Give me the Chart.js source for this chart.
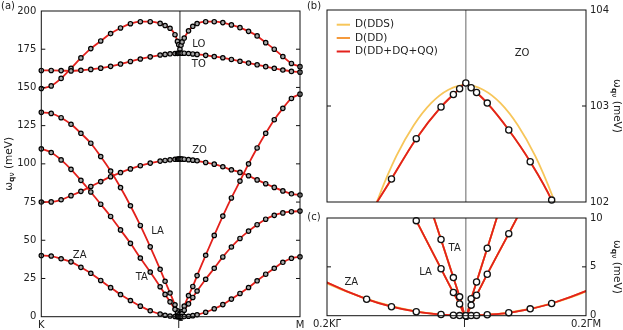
<!DOCTYPE html>
<html>
<head>
<meta charset="utf-8">
<script src="https://cdn.jsdelivr.net/npm/chart.js@4.4.1/dist/chart.umd.min.js"></script>
<style>
  html, body { margin: 0; padding: 0; background: #fff; }
  #wrap { position: relative; width: 623px; height: 330px; overflow: hidden; }
  canvas { position: absolute; }
</style>
</head>
<body>
<div id="wrap">
  <canvas id="panelA" width="310" height="330" style="left:0;top:0;width:310px;height:330px"></canvas>
  <canvas id="panelB" width="323" height="212" style="left:300px;top:0;width:323px;height:212px"></canvas>
  <canvas id="panelC" width="323" height="122" style="left:300px;top:208px;width:323px;height:122px"></canvas>
</div>
<script>
// path coordinate: K = -1, Gamma = 0, M = 0.866 (|GM|/|GK|)
const qPath = [-1, -0.9286, -0.8571, -0.7857, -0.7143, -0.6429, -0.5714, -0.5, -0.4286, -0.3571, -0.2857, -0.2143, -0.1429,
  -0.1071, -0.0714, -0.0357, -0.0179, -0.0089, 0, 0.0077, 0.0155, 0.0309, 0.0619, 0.0928, 0.1237,
  0.1856, 0.2474, 0.3093, 0.3712, 0.4330, 0.4949, 0.5567, 0.6186, 0.6804, 0.7423, 0.8042, 0.8660];

// phonon branches (meV) at qPath, D(DD+DQ+QQ)
const bandZA = [40.0, 39.7, 37.9, 35.9, 32.3, 28.4, 23.7, 19.0, 14.5, 10.6, 6.9, 3.9, 1.69, 0.92, 0.41, 0.12, 0.04, 0.01,
  0, 0.01, 0.03, 0.1, 0.3, 0.7, 1.25, 2.9, 5.2, 7.9, 11.5, 15.2, 19.1, 23.5, 27.8, 31.7, 35.6, 38.2, 39.2];
const bandTA = [109.8, 107.4, 102.6, 96.4, 89.2, 81.6, 73.6, 65.6, 56.8, 48.0, 38.4, 29.2, 19.6, 14.6, 9.73, 4.81, 2.37, 1.19,
  0, 1.08, 2.1, 4.25, 8.4, 12.6, 16.8, 24.5, 31.7, 39.1, 45.6, 51.2, 56.0, 60.2, 63.8, 66.3, 67.9, 68.7, 69.1];
const bandLA = [133.7, 133.0, 130.2, 125.9, 120.0, 113.5, 104.8, 95.3, 84.5, 72.6, 59.7, 45.7, 31.0, 23.2, 15.5, 7.8, 3.9, 1.93,
  0, 1.73, 3.45, 6.9, 13.8, 19.8, 26.9, 40.2, 53.2, 65.8, 77.7, 88.7, 100.0, 110.4, 120.0, 128.9, 136.3, 142.8, 145.6];
const bandZO = [75.0, 75.1, 76.5, 79.2, 82.0, 85.2, 88.4, 91.6, 94.3, 96.7, 98.8, 100.5, 101.8, 102.24, 102.66, 102.99, 103.12, 103.18,
  103.24, 103.19, 103.14, 103.03, 102.75, 102.42, 102.02, 100.9, 99.8, 98.1, 96.1, 94.4, 92.2, 89.5, 87.0, 84.6, 82.3, 80.4, 79.6];
const bandTO = [161.1, 161.1, 161.0, 160.8, 161.2, 161.8, 162.6, 163.8, 165.3, 167.0, 168.6, 170.0, 171.2, 171.6, 172.0, 172.2, 172.3, 172.4,
  172.4, 172.4, 172.4, 172.4, 172.2, 171.9, 171.6, 171.0, 170.2, 169.4, 168.3, 167.1, 165.9, 164.8, 163.6, 162.5, 161.4, 160.5, 160.0];
const bandLO = [149.3, 151.0, 155.9, 162.5, 169.3, 175.4, 180.4, 185.2, 188.9, 191.7, 193.0, 193.0, 191.9, 190.5, 188.7, 184.5, 180.1, 178.0,
  175.0, 177.6, 179.8, 182.3, 187.0, 190.0, 191.8, 193.0, 193.0, 192.4, 190.9, 189.1, 186.7, 183.7, 179.3, 175.0, 170.2, 165.7, 163.6];

// D(DDS) curves near Gamma
const zoomQ = [-0.2, -0.175, -0.15, -0.125, -0.1, -0.075, -0.05, -0.025, 0, 0.025, 0.05, 0.075, 0.1, 0.125, 0.15, 0.175];
const ddsZO = [100.25, 100.95, 101.55, 102.06, 102.48, 102.8, 103.03, 103.17, 103.22, 103.17, 103.03, 102.8, 102.48, 102.06, 101.55, 100.95];
const ddsZA = [3.3, 2.55, 1.9, 1.33, 0.88, 0.5, 0.23, 0.06, 0, 0.05, 0.22, 0.48, 0.83, 1.28, 1.85, 2.52];

const pathTicks = [-1, 0, 0.866];
const pathTickLabels = ['K', 'Γ', 'M'];
const zoomTicks = [-0.2, 0, 0.1732];
const zoomTickLabels = ['0.2KΓ', 'Γ', '0.2ΓM'];
const legendLabels = ['D(DDS)', 'D(DD)', 'D(DD+DQ+QQ)'];

const RED = '#e3211c', ORANGE = '#f59a3c', YELLOW = '#f7c65a';
const FONT = "'DejaVu Sans', sans-serif";

Chart.defaults.font.family = FONT;
Chart.defaults.font.size = 10;
Chart.defaults.color = '#222';

const toPts = (xs, ys) => xs.map((x, i) => ({ x: x, y: ys[i] }));

function drawTitle(ctx, cx, cy, rot) {
  const parts = [
    { t: 'ω', f: '10.5px ' + FONT, dy: 0 },
    { t: 'q', f: 'bold 7.5px ' + FONT, dy: 3 },
    { t: 'ν', f: '7.5px ' + FONT, dy: 3 },
    { t: ' (meV)', f: '10.5px ' + FONT, dy: 0 }
  ];
  let w = 0;
  parts.forEach(p => { ctx.font = p.f; p.w = ctx.measureText(p.t).width; w += p.w; });
  ctx.save();
  ctx.translate(cx, cy);
  ctx.rotate(rot);
  ctx.textBaseline = 'middle';
  ctx.textAlign = 'left';
  let x = -w / 2;
  parts.forEach(p => { ctx.font = p.f; ctx.fillText(p.t, x, p.dy); x += p.w; });
  ctx.restore();
}

const deco = {
  id: 'deco',
  beforeDatasetsDraw(chart, args, o) {
    const { ctx, chartArea: a, scales } = chart;
    const gx = scales.x.getPixelForValue(0);
    ctx.save();
    ctx.strokeStyle = o.gammaColor;
    ctx.lineWidth = o.gammaWidth;
    ctx.beginPath();
    ctx.moveTo(gx, a.top);
    ctx.lineTo(gx, a.bottom);
    ctx.stroke();
    ctx.restore();
  },
  afterDraw(chart, args, o) {
    const { ctx, chartArea: a, scales } = chart;
    const ys = scales.y;
    ctx.save();
    ctx.strokeStyle = '#111';
    ctx.lineWidth = 1;
    ctx.strokeRect(a.left, a.top, a.right - a.left, a.bottom - a.top);
    ys.ticks.forEach(t => {
      const y = ys.getPixelForValue(t.value);
      if (y < a.top + 2 || y > a.bottom - 2) return;
      ctx.beginPath();
      ctx.moveTo(a.left, y); ctx.lineTo(a.left + 4, y);
      ctx.moveTo(a.right - 4, y); ctx.lineTo(a.right, y);
      ctx.stroke();
    });
    ctx.fillStyle = '#222';
    ctx.font = '10px ' + FONT;
    ctx.textAlign = 'center';
    ctx.textBaseline = 'middle';
    o.labels.forEach(l => ctx.fillText(l.text, scales.x.getPixelForValue(l.x), ys.getPixelForValue(l.y)));
    ctx.fillText(o.tag, o.tagX, o.tagY);
    drawTitle(ctx, o.titleX, (a.top + a.bottom) / 2, o.titleRot);
    if (o.legend) {
      const cols = [YELLOW, ORANGE, RED];
      const rows = [14.7, 28, 41.5];
      ctx.textAlign = 'left';
      legendLabels.forEach((txt, i) => {
        const y = a.top + rows[i];
        ctx.strokeStyle = cols[i];
        ctx.lineWidth = 2;
        ctx.beginPath();
        ctx.moveTo(a.left + 9.7, y); ctx.lineTo(a.left + 23, y);
        ctx.stroke();
        ctx.fillText(txt, a.left + 28, y);
      });
    }
    ctx.restore();
  }
};

const noGrid = { display: false, drawTicks: false };
const noBorder = { display: false };

const dotStyle = (small) => small
  ? { showLine: false, pointRadius: 2.2, pointBorderWidth: 1.2, pointBorderColor: '#000', pointBackgroundColor: '#a8a8a8', clip: 4 }
  : { showLine: false, pointRadius: 3.1, pointBorderWidth: 1.3, pointBorderColor: '#111', pointBackgroundColor: '#fff', clip: 4 };
const lineStyle = (col) => ({ showLine: true, borderColor: col, borderWidth: 1.8, pointRadius: 0, cubicInterpolationMode: 'monotone' });

// (a) full dispersion
const branches = [bandZA, bandTA, bandLA, bandZO, bandTO, bandLO];
new Chart(document.getElementById('panelA'), {
  type: 'scatter',
  data: {
    datasets: [
      ...branches.map(b => Object.assign({ data: toPts(qPath, b) }, dotStyle(true))),
      ...branches.map(b => Object.assign({ data: toPts(qPath, b) }, lineStyle(RED)))
    ]
  },
  options: {
    responsive: false, animation: false, events: [],
    layout: { padding: { left: 0, right: 10, top: 7.5, bottom: 0 } },
    plugins: {
      legend: { display: false }, tooltip: { enabled: false },
      deco: {
        gammaColor: '#222', gammaWidth: 1, tag: '(a)', tagX: 8, tagY: 6, titleX: 9, titleRot: -Math.PI / 2, legend: false,
        labels: [
          { text: 'LO', x: 0.136, y: 178.2 }, { text: 'TO', x: 0.136, y: 165.3 }, { text: 'ZO', x: 0.142, y: 109 },
          { text: 'LA', x: -0.162, y: 56.1 }, { text: 'TA', x: -0.275, y: 25.4 }, { text: 'ZA', x: -0.723, y: 40 }
        ]
      }
    },
    scales: {
      x: {
        type: 'linear', min: -1, max: 0.866, grid: noGrid, border: noBorder,
        afterBuildTicks: s => { s.ticks = pathTicks.map(v => ({ value: v })); },
        ticks: { autoSkip: false, maxRotation: 0, padding: 3, callback: (v, i) => pathTickLabels[i] },
        afterFit: s => { s.height = 13.3; }
      },
      y: {
        min: 0, max: 200, grid: noGrid, border: noBorder,
        ticks: { stepSize: 25, padding: 5 },
        afterFit: s => { s.width = 41.3; }
      }
    }
  },
  plugins: [deco]
});

// (b) ZO near Gamma
new Chart(document.getElementById('panelB'), {
  type: 'scatter',
  data: {
    datasets: [
      Object.assign({ data: toPts(qPath, bandZO) }, dotStyle(false)),
      Object.assign({ data: toPts(qPath, bandZO) }, lineStyle(RED)),
      Object.assign({ data: toPts(qPath, bandZO) }, lineStyle(ORANGE)),
      Object.assign({ data: toPts(zoomQ, ddsZO) }, lineStyle(YELLOW))
    ]
  },
  options: {
    responsive: false, animation: false, events: [],
    layout: { padding: { left: 27, right: 0, top: 8, bottom: 7.3 } },
    plugins: {
      legend: { display: false }, tooltip: { enabled: false },
      deco: {
        gammaColor: '#999', gammaWidth: 1.5, tag: '(b)', tagX: 14, tagY: 6, titleX: 317, titleRot: Math.PI / 2, legend: true,
        labels: [{ text: 'ZO', x: 0.081, y: 103.55 }]
      }
    },
    scales: {
      x: { type: 'linear', min: -0.2, max: 0.1732, display: false },
      y: {
        position: 'right', min: 102, max: 104, grid: noGrid, border: noBorder,
        ticks: { stepSize: 1, padding: 4 },
        afterFit: s => { s.width = 37; }
      }
    }
  },
  plugins: [deco]
});

// (c) acoustic branches near Gamma
const acoustic = [bandZA, bandTA, bandLA];
new Chart(document.getElementById('panelC'), {
  type: 'scatter',
  data: {
    datasets: [
      ...acoustic.map(b => Object.assign({ data: toPts(qPath, b) }, dotStyle(false))),
      ...acoustic.map(b => Object.assign({ data: toPts(qPath, b) }, lineStyle(RED))),
      ...acoustic.map(b => Object.assign({ data: toPts(qPath, b) }, lineStyle(ORANGE))),
      Object.assign({ data: toPts(zoomQ, ddsZA) }, lineStyle(YELLOW)),
      Object.assign({ data: toPts(qPath, bandTA) }, lineStyle(YELLOW)),
      Object.assign({ data: toPts(qPath, bandLA) }, lineStyle(YELLOW))
    ]
  },
  options: {
    responsive: false, animation: false, events: [],
    layout: { padding: { left: 27, right: 0, top: 9.3, bottom: 0 } },
    plugins: {
      legend: { display: false }, tooltip: { enabled: false },
      deco: {
        gammaColor: '#999', gammaWidth: 1.5, tag: '(c)', tagX: 14, tagY: 9, titleX: 317, titleRot: Math.PI / 2, legend: false,
        labels: [
          { text: 'ZA', x: -0.165, y: 3.37 }, { text: 'LA', x: -0.058, y: 4.39 }, { text: 'TA', x: -0.016, y: 6.93 }
        ]
      }
    },
    scales: {
      x: {
        type: 'linear', min: -0.2, max: 0.1732, grid: noGrid, border: noBorder,
        afterBuildTicks: s => { s.ticks = zoomTicks.map(v => ({ value: v })); },
        ticks: { autoSkip: false, maxRotation: 0, padding: 3, callback: (v, i) => zoomTickLabels[i] },
        afterFit: s => { s.height = 14.3; }
      },
      y: {
        position: 'right', min: 0, max: 10, grid: noGrid, border: noBorder,
        ticks: { stepSize: 5, padding: 4 },
        afterFit: s => { s.width = 37; }
      }
    }
  },
  plugins: [deco]
});
</script>
</body>
</html>
